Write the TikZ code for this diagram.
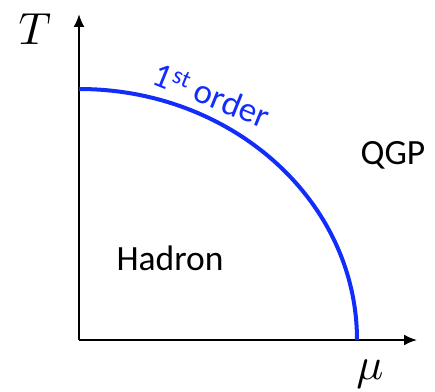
\documentclass[tikz,border=0pt]{standalone}
\usepackage{fontspec}
\usepackage{tikz}
\usetikzlibrary{arrows.meta,positioning,calc}
\newfontfamily\calib{Carlito}
\definecolor{lineblue}{RGB}{18,45,250}
\tikzset{axis/.style={-{Latex[length=13pt,width=11pt]},line width=2pt,draw=black},phase/.style={line width=4pt,draw=lineblue},lbl/.style={font=\calib\fontsize{35.5}{40}\selectfont,inner sep=0pt},sym/.style={scale=4.5,transform shape,inner sep=0pt}}

\begin{document}
\begin{tikzpicture}[x=1pt,y=1pt]
\useasboundingbox (0,0) rectangle (435,391);
\coordinate (O) at (79,51);
\coordinate (Ttip) at (79,377);
\coordinate (mutip) at (417,51);
\coordinate (top) at (79,302);
\draw[axis] (O)--(Ttip);
\draw[axis] (O)--(mutip);
\draw[phase] (top) arc[start angle=90,end angle=0,x radius=278,y radius=251];
\node[sym] (T) at (35,362) {$T$};
\node[sym] (mu) at (370,17) {$\mu$};
\node[lbl,text=lineblue,rotate=-22] (order) at (212,296) {\fontsize{35}{40}\selectfont1\textsuperscript{st} order};
\node[lbl] (qgp) at (393,236) {QGP};
\node[lbl] (hadron) at (170,133) {Hadron};
\end{tikzpicture}
\end{document}
